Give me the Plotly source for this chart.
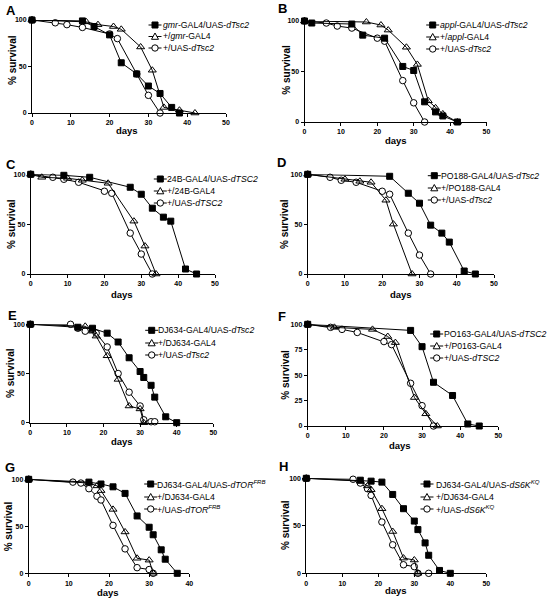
import plotly.graph_objects as go

W, H = 548, 601

# ---------------- data (days, % survival) ----------------
A_sq_days = [0, 13, 16, 20, 23, 27, 30, 33, 36, 38]
A_sq_surv = [100, 99, 93, 84, 54, 42, 29, 21, 6, 0]
A_tri_days = [0, 14, 17, 21, 23, 28, 31, 34, 38, 42]
A_tri_surv = [100, 98, 95, 93, 90, 71, 46, 6, 3, 0]
A_circ_days = [0, 6, 9, 13, 20, 22, 27, 30, 33]
A_circ_surv = [100, 97, 95, 92, 85, 80, 42, 19, 0]

B_sq_days = [0, 2, 13, 16, 22, 27, 30, 33, 36, 38, 42]
B_sq_surv = [100, 98, 97, 86, 83, 55, 51, 20, 10, 6, 0]
B_tri_days = [0, 17, 21, 23, 28, 31, 34, 36, 38, 42]
B_tri_surv = [100, 99, 96, 91, 74, 57, 21, 14, 8, 0]
B_circ_days = [0, 6, 9, 13, 20, 22, 27, 30, 33]
B_circ_surv = [100, 98, 95, 93, 83, 80, 41, 19, 0]

C_sq_days = [0, 9, 16, 27, 30, 33, 36, 38, 42, 45]
C_sq_surv = [100, 99, 97, 87, 80, 66, 57, 53, 5, 0]
C_tri_days = [0, 3, 10, 14, 21, 28, 31, 34]
C_tri_surv = [100, 97, 96, 94, 91, 53, 28, 0]
C_circ_days = [0, 6, 9, 13, 20, 22, 27, 30, 33]
C_circ_surv = [100, 97, 95, 92, 83, 81, 41, 20, 0]

D_sq_days = [0, 22, 27, 30, 33, 36, 38, 42, 45]
D_sq_surv = [100, 98, 81, 71, 49, 41, 32, 3, 0]
D_tri_days = [0, 10, 14, 17, 21, 23, 28]
D_tri_surv = [100, 95, 93, 92, 74, 50, 0]
D_circ_days = [0, 6, 9, 13, 20, 22, 27, 30, 33]
D_circ_surv = [100, 97, 94, 92, 83, 80, 41, 19, 0]

E_sq_days = [0, 13, 17, 21, 24, 27, 30, 31, 33, 34, 37, 40]
E_sq_surv = [100, 97, 96, 91, 82, 66, 52, 46, 38, 26, 6, 0]
E_tri_days = [0, 15, 17, 18, 21, 24, 27, 30, 31]
E_tri_surv = [100, 98, 93, 88, 68, 44, 17, 14, 0]
E_circ_days = [0, 11, 13, 15, 18, 21, 24, 27, 30, 31, 33, 34]
E_circ_surv = [100, 100, 96, 93, 91, 77, 50, 31, 17, 3, 1, 1]

F_sq_days = [0, 27, 30, 33, 38, 42, 45]
F_sq_surv = [100, 94, 78, 43, 30, 2, 0]
F_tri_days = [0, 7, 17, 21, 23, 28, 31, 34]
F_tri_surv = [100, 97, 95, 88, 82, 28, 12, 0]
F_circ_days = [0, 6, 9, 13, 20, 22, 27, 30, 33]
F_circ_surv = [100, 97, 95, 92, 83, 80, 42, 20, 0]

G_sq_days = [0, 15, 18, 21, 24, 27, 30, 31, 33, 34, 37]
G_sq_surv = [100, 97, 95, 92, 85, 61, 49, 41, 25, 15, 0]
G_tri_days = [0, 15, 17, 18, 21, 24, 27, 30, 31]
G_tri_surv = [100, 96, 93, 88, 68, 44, 16, 14, 0]
G_circ_days = [0, 11, 13, 15, 17, 18, 21, 24, 27, 30, 31]
G_circ_surv = [100, 97, 96, 90, 82, 78, 51, 26, 6, 4, 0]

H_sq_days = [0, 15, 18, 21, 24, 27, 30, 31, 33, 34, 37, 40]
H_sq_surv = [100, 98, 97, 96, 83, 68, 55, 46, 32, 19, 3, 0]
H_tri_days = [0, 15, 17, 18, 21, 24, 27, 30, 31]
H_tri_surv = [100, 97, 92, 88, 68, 44, 16, 14, 0]
H_circ_days = [0, 13, 15, 17, 18, 21, 24, 27, 30, 31, 34]
H_circ_surv = [100, 99, 95, 89, 82, 54, 30, 9, 7, 0, 0]

# ---------------- labels ----------------
A_labels = ["<i>gmr</i>-GAL4/UAS-<i>dTsc2</i>", "+/<i>gmr</i>-GAL4", "+/UAS-<i>dTsc2</i>"]
B_labels = ["<i>appl</i>-GAL4/UAS-<i>dTsc2</i>", "+/<i>appl</i>-GAL4", "+/UAS-<i>dTsc2</i>"]
C_labels = ["24B-GAL4/UAS-<i>dTSC2</i>", "+/24B-GAL4", "+/UAS-<i>dTSC2</i>"]
D_labels = ["PO188-GAL4/UAS-<i>dTsc2</i>", "+/PO188-GAL4", "+/UAS-<i>dTsc2</i>"]
E_labels = ["DJ634-GAL4/UAS-<i>dTsc2</i>", "+/DJ634-GAL4", "+/UAS-<i>dTsc2</i>"]
F_labels = ["PO163-GAL4/UAS-<i>dTSC2</i>", "+/P0163-GAL4", "+/UAS-<i>dTSC2</i>"]
G_labels = ["DJ634-GAL4/UAS-<i>dTOR<sup>FRB</sup></i>", "+/DJ634-GAL4", "+/UAS-<i>dTOR<sup>FRB</sup></i>"]
H_labels = ["DJ634-GAL4/UAS-<i>dS6K<sup>KQ</sup></i>", "+/DJ634-GAL4", "+/UAS-<i>dS6K<sup>KQ</sup></i>"]

panel_letters = ["A", "B", "C", "D", "E", "F", "G", "H"]
x_title = "days"
y_title = "% survival"
x_ticks_50 = [0, 10, 20, 30, 40, 50]
x_ticks_40 = [0, 10, 20, 30, 40]
y_ticks_3 = [0, 50, 100]
y_ticks_5 = [0, 25, 50, 75, 100]

series = [
    (A_sq_days, A_sq_surv, A_tri_days, A_tri_surv, A_circ_days, A_circ_surv, A_labels),
    (B_sq_days, B_sq_surv, B_tri_days, B_tri_surv, B_circ_days, B_circ_surv, B_labels),
    (C_sq_days, C_sq_surv, C_tri_days, C_tri_surv, C_circ_days, C_circ_surv, C_labels),
    (D_sq_days, D_sq_surv, D_tri_days, D_tri_surv, D_circ_days, D_circ_surv, D_labels),
    (E_sq_days, E_sq_surv, E_tri_days, E_tri_surv, E_circ_days, E_circ_surv, E_labels),
    (F_sq_days, F_sq_surv, F_tri_days, F_tri_surv, F_circ_days, F_circ_surv, F_labels),
    (G_sq_days, G_sq_surv, G_tri_days, G_tri_surv, G_circ_days, G_circ_surv, G_labels),
    (H_sq_days, H_sq_surv, H_tri_days, H_tri_surv, H_circ_days, H_circ_surv, H_labels),
]

# ---------------- layout geometry (pixels) ----------------
geom = [
    dict(x0=32, x1=226, yt=20, yb=113, xt=x_ticks_50, yv=y_ticks_3, letter=(11, 11),
         mx=155, tx=163, ly=[25, 36.5, 48], dx=(127, 130), yl=(12, 60)),
    dict(x0=304.5, x1=486.5, yt=21, yb=122, xt=x_ticks_50, yv=y_ticks_3, letter=(282, 9),
         mx=432.7, tx=439.7, ly=[25, 37, 49], dx=(395.7, 140), yl=(285.7, 70)),
    dict(x0=30.7, x1=215, yt=174.3, yb=274, xt=x_ticks_50, yv=y_ticks_3, letter=(11, 164),
         mx=160.3, tx=166.7, ly=[179, 191, 203], dx=(122.3, 294), yl=(11, 224)),
    dict(x0=307.7, x1=494, yt=174.3, yb=274, xt=x_ticks_50, yv=y_ticks_3, letter=(281, 162),
         mx=434.3, tx=440.7, ly=[175.7, 188, 200], dx=(400.7, 294), yl=(284, 224)),
    dict(x0=30.3, x1=213.3, yt=324.3, yb=422.7, xt=x_ticks_50, yv=y_ticks_3, letter=(12, 315),
         mx=151.7, tx=158, ly=[330.3, 343, 355], dx=(121.7, 441.7), yl=(10, 373)),
    dict(x0=307.7, x1=498.3, yt=324.3, yb=426, xt=x_ticks_50, yv=y_ticks_5, letter=(282, 316),
         mx=436.7, tx=444, ly=[334, 346, 358], dx=(400, 445), yl=(284.7, 375)),
    dict(x0=28.7, x1=189.3, yt=479.3, yb=573.3, xt=x_ticks_40, yv=y_ticks_3, letter=(10, 467),
         mx=150.7, tx=157.3, ly=[484, 497, 509], dx=(108.3, 592.5), yl=(8.3, 526)),
    dict(x0=306.3, x1=486.3, yt=478.3, yb=573.3, xt=x_ticks_50, yv=y_ticks_3, letter=(283, 466),
         mx=427, tx=435.7, ly=[484, 497, 509], dx=(396, 590), yl=(285, 525)),
]

FONT = "Liberation Sans, Arial, sans-serif"
BLACK = "black"

fig = go.Figure()
layout = dict(
    width=W, height=H, margin=dict(l=0, r=0, t=0, b=0),
    paper_bgcolor="white", plot_bgcolor="white", showlegend=False,
    font=dict(family=FONT, color=BLACK),
)
shapes = []
annotations = []


def px(x):
    return x / W


def py(y):
    return 1 - y / H


marker_styles = [
    dict(symbol="square", size=6, color=BLACK, line=dict(color=BLACK, width=1)),
    dict(symbol="triangle-up-open", size=7, color=BLACK, line=dict(color=BLACK, width=1)),
    dict(symbol="circle", size=6.5, color="white", line=dict(color=BLACK, width=1)),
]

for i, (s, g) in enumerate(zip(series, geom)):
    sfx = "" if i == 0 else str(i + 1)
    xa, ya = "x" + sfx, "y" + sfx
    sq_d, sq_s, tr_d, tr_s, ci_d, ci_s, labels = s
    xmax = g["xt"][-1]
    for idx, (d, v) in [(2, (ci_d, ci_s)), (1, (tr_d, tr_s)), (0, (sq_d, sq_s))]:
        fig.add_trace(go.Scatter(
            x=d, y=v, mode="lines+markers", name=labels[idx],
            line=dict(color=BLACK, width=1), marker=marker_styles[idx],
            xaxis=xa, yaxis=ya, cliponaxis=False, hoverinfo="x+y",
        ))
    layout["xaxis" + sfx] = dict(
        domain=[px(g["x0"]), px(g["x1"])], anchor=ya, range=[0, xmax],
        tickvals=g["xt"], ticks="outside", ticklen=3, tickwidth=1, tickcolor=BLACK,
        showline=True, linecolor=BLACK, linewidth=1, showgrid=False, zeroline=False,
        tickfont=dict(size=7, family=FONT, weight="bold"),
        automargin=False, fixedrange=True,
    )
    layout["yaxis" + sfx] = dict(
        domain=[py(g["yb"]), py(g["yt"])], anchor=xa, range=[0, 100],
        tickvals=g["yv"], ticks="outside", ticklen=3, tickwidth=1, tickcolor=BLACK,
        showline=True, linecolor=BLACK, linewidth=1, showgrid=False, zeroline=False,
        tickfont=dict(size=7, family=FONT, weight="bold"),
        automargin=False, fixedrange=True,
    )
    # axis titles
    annotations.append(dict(text="<b>%s</b>" % x_title, x=px(g["dx"][0]), y=py(g["dx"][1]),
                            xref="paper", yref="paper", showarrow=False,
                            xanchor="center", yanchor="middle",
                            font=dict(size=9.5, family=FONT, color=BLACK)))
    annotations.append(dict(text="<b>%s</b>" % y_title, x=px(g["yl"][0]), y=py(g["yl"][1]),
                            xref="paper", yref="paper", showarrow=False, textangle=-90,
                            xanchor="center", yanchor="middle",
                            font=dict(size=10, family=FONT, color=BLACK)))
    # panel letter
    lx, lyy = g["letter"]
    annotations.append(dict(text="<b>%s</b>" % panel_letters[i], x=px(lx), y=py(lyy),
                            xref="paper", yref="paper", showarrow=False,
                            xanchor="center", yanchor="middle",
                            font=dict(size=13, family=FONT, color=BLACK)))
    # legend
    mx = g["mx"]
    for r in range(3):
        yy = g["ly"][r]
        shapes.append(dict(type="line", xref="paper", yref="paper",
                           x0=px(mx - 6.5), x1=px(mx + 6.5), y0=py(yy), y1=py(yy),
                           line=dict(color=BLACK, width=1)))
        if r == 0:
            shapes.append(dict(type="rect", xref="paper", yref="paper",
                               x0=px(mx - 3), x1=px(mx + 3), y0=py(yy + 3), y1=py(yy - 3),
                               fillcolor=BLACK, line=dict(color=BLACK, width=1)))
        elif r == 1:
            p = "M %f %f L %f %f L %f %f Z" % (px(mx - 3.5), py(yy + 2.8), px(mx + 3.5), py(yy + 2.8),
                                              px(mx), py(yy - 3.5))
            shapes.append(dict(type="path", xref="paper", yref="paper", path=p,
                               fillcolor="white", line=dict(color=BLACK, width=1)))
        else:
            shapes.append(dict(type="circle", xref="paper", yref="paper",
                               x0=px(mx - 3.2), x1=px(mx + 3.2), y0=py(yy + 3.2), y1=py(yy - 3.2),
                               fillcolor="white", line=dict(color=BLACK, width=1)))
        annotations.append(dict(text=labels[r], x=px(g["tx"] - 2), y=py(yy),
                                xref="paper", yref="paper", showarrow=False,
                                xanchor="left", yanchor="middle",
                                font=dict(size=8.7, family=FONT, color=BLACK)))

layout["shapes"] = shapes
layout["annotations"] = annotations
fig.update_layout(**layout)
fig.write_html(
    "out.html",
    config={"displayModeBar": False},
    post_script="document.documentElement.style.margin='0';document.body.style.margin='0';"
                "document.body.style.padding='0';document.body.style.overflow='hidden';",
)
